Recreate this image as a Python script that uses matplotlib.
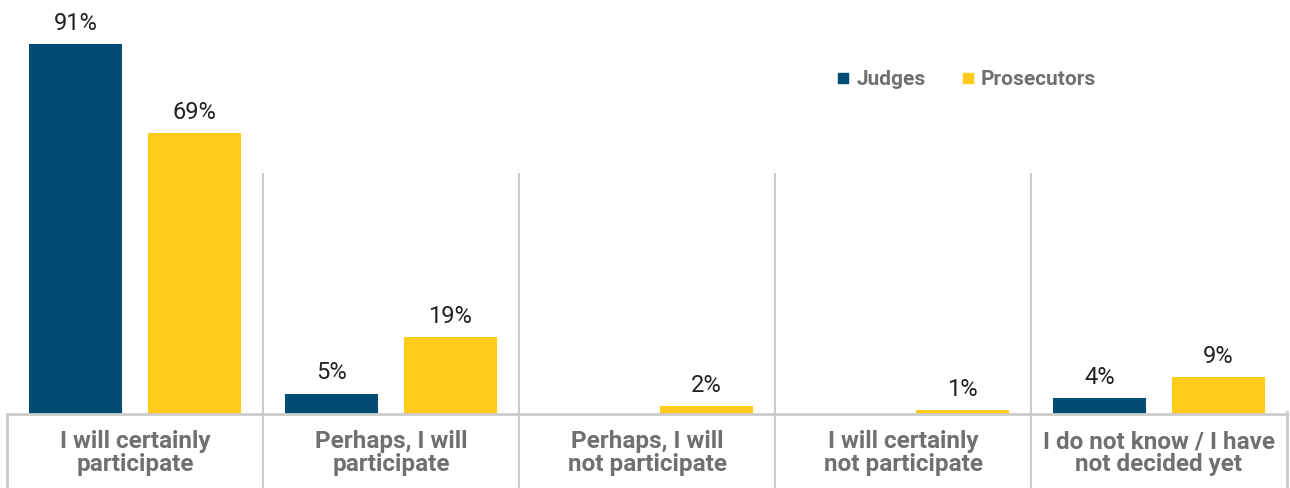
import matplotlib.pyplot as plt
import numpy as np

plt.rcParams['font.family'] = ['Roboto', 'DejaVu Sans']

categories = ["I will certainly\nparticipate", "Perhaps, I will\nparticipate",
              "Perhaps, I will\nnot participate", "I will certainly\nnot participate",
              "I do not know / I have\nnot decided yet"]
judges = [91, 5, 0, 0, 4]
prosecutors = [69, 19, 2, 1, 9]

navy = "#004c74"
yellow = "#ffca18"
grey_line = "#cccccc"
text_grey = "#707070"

fig = plt.figure(figsize=(12.9, 4.89), dpi=100)
ax = fig.add_axes([7 / 1290, 74 / 489, 1280 / 1290, 0.983 - 74 / 489])

x = np.arange(len(categories))
w = 0.363
off = 0.232
ax.bar(x - off, judges, w, color=navy)
ax.bar(x + off, prosecutors, w, color=yellow)

for i in range(len(categories)):
    if judges[i] > 0:
        ax.text(x[i] - off, judges[i] + 2.5, f"{judges[i]}%", ha="center", va="bottom",
                fontsize=17, color="#222222")
    ax.text(x[i] + off, prosecutors[i] + 2.5, f"{prosecutors[i]}%", ha="center", va="bottom",
            fontsize=17, color="#222222")

ax.set_xlim(-0.5, len(categories) - 0.5)
ax.set_ylim(0, 100)
ax.set_yticks([])
ax.set_xticks([])
for s in ax.spines.values():
    s.set_visible(False)

# baseline and separators
ax.plot([-0.5, len(categories) - 0.5], [0, 0], color=grey_line, lw=2, clip_on=False)
ax.plot([-0.5, -0.5], [0, -18.3], color=grey_line, lw=2, clip_on=False)
ax.plot([len(categories) - 0.5] * 2, [0.5, -18.3], color=grey_line, lw=2, clip_on=False)
for b in x[:-1] + 0.5:
    ax.plot([b, b], [59, -18.3], color=grey_line, lw=1.5, clip_on=False)

for i, c in enumerate(categories):
    ax.text(x[i], -3.8, c, ha="center", va="top", fontsize=17.5, fontweight="bold",
            color=text_grey, linespacing=0.95)

# legend
ax.scatter([], [], marker="s", color=navy, s=55, label="Judges")
ax.scatter([], [], marker="s", color=yellow, s=55, label="Prosecutors")
leg = ax.legend(loc="upper left", bbox_to_anchor=(0.632, 0.895), ncol=2, frameon=False,
                handlelength=0.8, handletextpad=0.25, columnspacing=1.6,
                prop={"size": 15, "weight": "bold"})
for t in leg.get_texts():
    t.set_color(text_grey)

fig.savefig("out.png", dpi=100)
